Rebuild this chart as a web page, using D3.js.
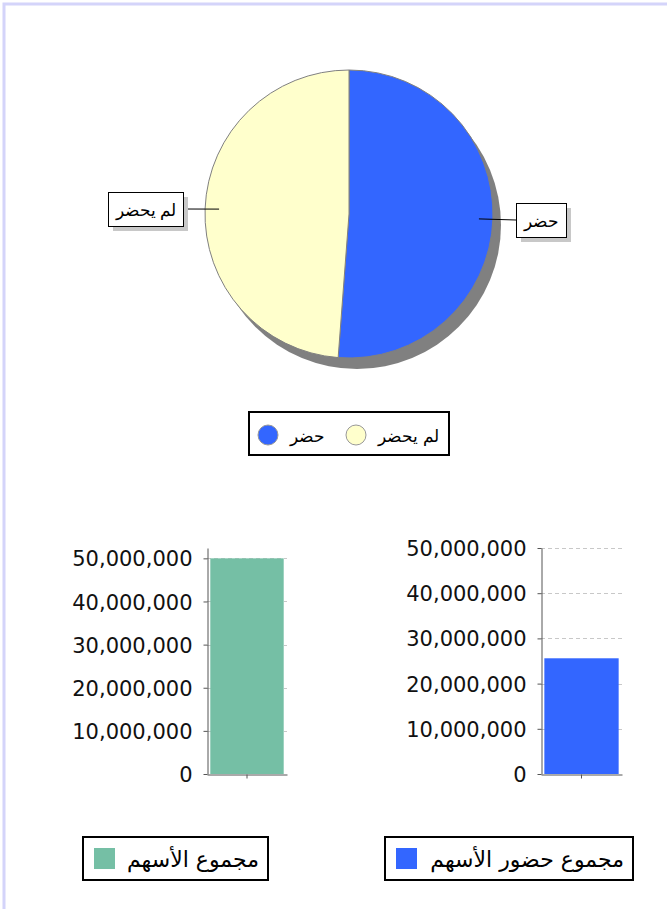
<!DOCTYPE html>
<html lang="ar">
<head>
<meta charset="UTF-8">
<title>Attendance</title>
<style>
  body { margin: 0; padding: 0; background: #fff; }
  svg { display: block; }
  .tick text { font-family: "DejaVu Sans", sans-serif; font-size: 21px; fill: #111; }
  .pielabel { font-family: "Liberation Sans", Arial, sans-serif; font-size: 17px; }
  .legtext { font-family: "DejaVu Sans", sans-serif; font-size: 22px; }
</style>
</head>
<body>
<div id="chart"></div>
<script src="https://d3js.org/d3.v7.min.js"></script>
<script>
// pie data
var pieLabels = ["حضر", "لم يحضر"];
var pieValues = [25600000, 24400000];
var pieColors = ["#3366ff", "#ffffcc"];

// bar charts
var totalLabel = ["مجموع الأسهم"];
var totalValues = [50000000];
var attendLabel = ["مجموع حضور الأسهم"];
var attendValues = [25600000];
var yTicks = [0, 10000000, 20000000, 30000000, 40000000, 50000000];

var width = 667, height = 909;

var svg = d3.select("#chart").append("svg")
  .attr("width", width)
  .attr("height", height);

// page frame
svg.append("rect")
  .attr("x", 4).attr("y", 4)
  .attr("width", width + 20).attr("height", height + 20)
  .attr("fill", "none")
  .attr("stroke", "#d4d4fa")
  .attr("stroke-width", 3);

// ---- pie ----
var cx = 349, cy = 214, r = 144;
var pie = d3.pie().sort(null);
var arcs = pie(pieValues);
var arc = d3.arc().innerRadius(0).outerRadius(r);

var pg = svg.append("g").attr("transform", "translate(" + cx + "," + cy + ")");

pg.append("ellipse")
  .attr("cx", 8).attr("cy", 11)
  .attr("rx", r).attr("ry", r)
  .attr("fill", "#808080");

pg.selectAll("path.slice")
  .data(arcs)
  .enter().append("path")
  .attr("class", "slice")
  .attr("d", arc)
  .attr("fill", function(d, i) { return pieColors[i]; })
  .attr("stroke", "#808080")
  .attr("stroke-width", 1);

// labels
var anchorArc = d3.arc().innerRadius(130).outerRadius(130);
var labelBoxes = [
  { x: 516, w: 50, y: 203, h: 34 },
  { x: 108, w: 75, y: 192, h: 34 }
];

arcs.forEach(function(a, i) {
  var c = anchorArc.centroid(a);
  var b = labelBoxes[i];
  var ax = cx + c[0], ay = cy + c[1];
  var bx = (i === 0) ? b.x : b.x + b.w;
  svg.append("line")
    .attr("x1", ax).attr("y1", ay)
    .attr("x2", bx).attr("y2", b.y + b.h / 2)
    .attr("stroke", "#000").attr("stroke-width", 1);
  svg.append("rect")
    .attr("x", b.x + 5).attr("y", b.y + 5)
    .attr("width", b.w).attr("height", b.h)
    .attr("fill", "#c8c8c8");
  svg.append("rect")
    .attr("x", b.x + 0.5).attr("y", b.y + 0.5)
    .attr("width", b.w).attr("height", b.h)
    .attr("fill", "#fff").attr("stroke", "#000");
  svg.append("text")
    .attr("class", "pielabel")
    .attr("x", b.x + b.w / 2 + 0.5)
    .attr("y", b.y + b.h / 2 + 1)
    .attr("text-anchor", "middle")
    .attr("dominant-baseline", "central")
    .text(pieLabels[i]);
});

// pie legend
var lg = svg.append("g");
lg.append("rect")
  .attr("x", 249).attr("y", 412)
  .attr("width", 200).attr("height", 43)
  .attr("fill", "#fff").attr("stroke", "#000").attr("stroke-width", 2);
var legItems = [{ cx: 268, tx: 290 }, { cx: 356, tx: 378 }];
legItems.forEach(function(it, i) {
  lg.append("circle")
    .attr("cx", it.cx).attr("cy", 435).attr("r", 10)
    .attr("fill", pieColors[i]).attr("stroke", "#999").attr("stroke-width", 1);
  lg.append("text")
    .attr("class", "pielabel")
    .attr("x", it.tx).attr("y", 436)
    .attr("dominant-baseline", "central")
    .attr("direction", "rtl")
    .attr("text-anchor", "end")
    .text(pieLabels[i]);
});

// ---- bar charts ----
function barChart(opts) {
  var g = svg.append("g");
  var x = d3.scaleBand().domain(opts.labels).range([opts.x0, opts.x1]).paddingInner(0).paddingOuter(0.045);
  var y = d3.scaleLinear().domain([0, opts.ymax]).range([774, 548]);

  // grid
  g.selectAll("line.grid")
    .data(yTicks.slice(1))
    .enter().append("line")
    .attr("class", "grid")
    .attr("x1", opts.x0).attr("x2", opts.x1)
    .attr("y1", function(d) { return Math.round(y(d)) + 0.5; })
    .attr("y2", function(d) { return Math.round(y(d)) + 0.5; })
    .attr("stroke", "#c8c8c8")
    .attr("stroke-dasharray", "4,3");

  g.selectAll("rect.bar")
    .data(opts.values)
    .enter().append("rect")
    .attr("class", "bar")
    .attr("x", function(d, i) { return x(opts.labels[i]); })
    .attr("width", x.bandwidth())
    .attr("y", function(d) { return y(d); })
    .attr("height", function(d) { return y(0) - y(d); })
    .attr("fill", opts.color);

  var yAxis = g.append("g")
    .attr("transform", "translate(" + (opts.x0 + 0.5) + ",0)")
    .call(d3.axisLeft(y).tickValues(yTicks).tickSize(4).tickPadding(11)
      .tickFormat(d3.format(",")).tickSizeOuter(0));
  yAxis.select(".domain").attr("stroke", "#555");
  yAxis.selectAll(".tick line").attr("stroke", "#555");
  yAxis.selectAll(".tick text").attr("dy", "0.36em");

  var xAxis = g.append("g")
    .attr("transform", "translate(0," + (774.5) + ")")
    .call(d3.axisBottom(x).tickSize(4).tickSizeOuter(0).tickFormat(""));
  xAxis.select(".domain").attr("stroke", "#555");
  xAxis.selectAll(".tick line").attr("stroke", "#555");

  // legend
  g.append("rect")
    .attr("x", opts.lx).attr("y", 837)
    .attr("width", opts.lw).attr("height", 43)
    .attr("fill", "#fff").attr("stroke", "#000").attr("stroke-width", 2);
  g.append("rect")
    .attr("x", opts.lx + 11).attr("y", 848)
    .attr("width", 21).attr("height", 21)
    .attr("fill", opts.color);
  g.append("text")
    .attr("class", "legtext")
    .attr("x", opts.lx + opts.lw - 9).attr("y", 859)
    .attr("text-anchor", "start")
    .attr("direction", "rtl")
    .attr("dominant-baseline", "central")
    .text(opts.labels[0]);
}

barChart({ labels: totalLabel, values: totalValues, color: "#75bfa5",
  x0: 207, x1: 287, ymax: 52400000, lx: 83, lw: 185 });
barChart({ labels: attendLabel, values: attendValues, color: "#3366ff",
  x0: 541, x1: 622, ymax: 50000000, lx: 385, lw: 248 });
</script>
</body>
</html>
